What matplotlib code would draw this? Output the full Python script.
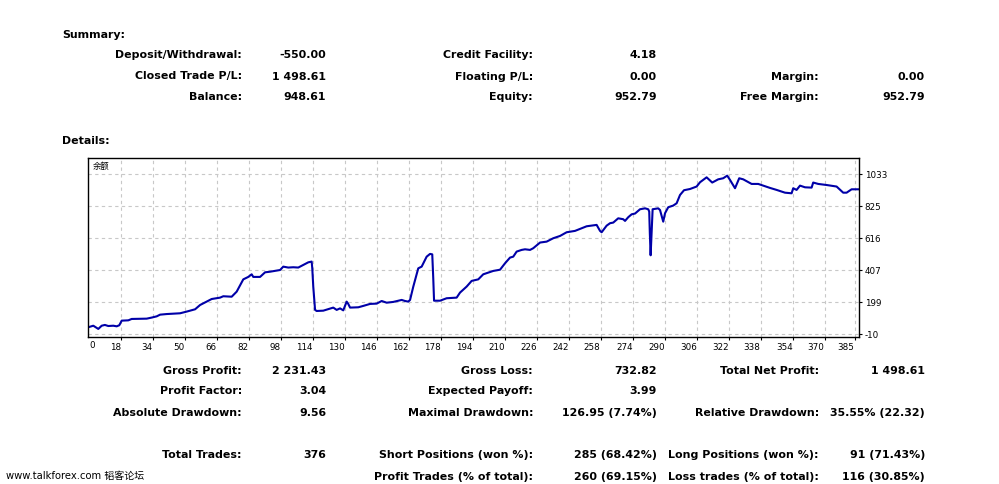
import matplotlib
matplotlib.use("Agg")
import matplotlib.pyplot as plt

# balance curve (trade number, balance)
trade_no = [1.8, 4.3, 6.8, 8.5, 10.1, 11.8, 14.3, 16, 17.3, 18.5, 21.8, 23.5, 31, 33.5, 36, 37.7,
            41, 47.7, 51, 55.2, 57.7, 61.8, 63.5, 67.7, 69.3, 73.5, 76, 79.3, 81.8, 83.5, 84.3,
            87.7, 90.2, 92.7, 97.7, 99.3, 101.8, 104.3, 106.8, 109.3, 111.8, 113.5, 113.8, 114.3,
            115.2, 116, 119.3, 124.3, 126, 127.7, 129.3, 131, 131.8, 132.7, 136.8, 139.3, 142.7,
            146, 148.5, 151, 154.3, 158.5, 160.2, 161.8, 162.7, 164.3, 166.8, 168.5, 171, 172.7,
            173.8, 174.3, 174.7, 177.7, 181, 186, 187.7, 191, 193.5, 196.8, 199.3, 204.3, 207.7,
            210.2, 212.7, 214.3, 216, 218.5, 220.2, 222.7, 224.3, 227.7, 231, 234.3, 237.7, 241,
            245.2, 247.7, 251, 256, 257.7, 258.5, 261, 262.7, 264.3, 266.8, 269.3, 270.2, 271.8,
            273.5, 275.2, 277.7, 280.2, 281.8, 282.3, 282.6, 283, 283.5, 284, 286.8, 287.7, 289.3,
            290.2, 291.8, 294.3, 296, 297.7, 299.7, 302.7, 306, 307.7, 311, 313.8, 316.8, 319.3,
            321.3, 322.7, 325.2, 327.3, 329.3, 333.5, 336.8, 339.3, 342.7, 346, 350.2, 353.5,
            354.3, 356, 357.7, 360.2, 363.5, 364.3, 366.8, 371, 376, 379.3, 381, 383.5, 387.3]
balance = [36, 46, 25, 46, 51, 44, 46, 42, 49, 79, 81, 90, 92, 99, 107, 118,
           122, 127, 138, 153, 181, 209, 220, 229, 238, 235, 268, 348, 364, 381, 364,
           364, 394, 398, 409, 431, 425, 427, 425, 442, 459, 464, 420, 300,
           149, 142, 144, 164, 149, 159, 146, 203, 188, 164, 166, 175, 188,
           190, 207, 196, 201, 214, 207, 203, 214, 300, 420, 431, 496, 514,
           511, 355, 209, 209, 225, 229, 262, 301, 338, 348, 381, 403, 411,
           453, 490, 496, 529, 540, 544, 540, 551, 588, 594, 616, 631, 655,
           664, 677, 694, 703, 664, 655, 698, 714, 718, 746, 740, 729, 753,
           772, 777, 805, 811, 805, 790, 650, 505, 650, 805, 811, 800, 724,
           779, 818, 829, 844, 898, 929, 937, 953, 981, 1013, 979, 1000, 1007,
           1024, 996, 942, 1007, 1000, 970, 970, 959, 944, 931, 913, 909,
           942, 931, 959, 948, 946, 979, 970, 963, 953, 913, 913, 935, 935]

x_ticks = [18, 34, 50, 66, 82, 98, 114, 130, 146, 162, 178, 194, 210, 226, 242, 258,
           274, 290, 306, 322, 338, 354, 370, 385]
y_ticks = [-10, 198.6, 407.2, 615.8, 824.4, 1033]
y_labels = ["-10", "199", "407", "616", "825", "1033"]

summary_rows = [
    [("Deposit/Withdrawal:", "-550.00"), ("Credit Facility:", "4.18"), None],
    [("Closed Trade P/L:", "1 498.61"), ("Floating P/L:", "0.00"), ("Margin:", "0.00")],
    [("Balance:", "948.61"), ("Equity:", "952.79"), ("Free Margin:", "952.79")],
]
detail_rows = [
    [("Gross Profit:", "2 231.43"), ("Gross Loss:", "732.82"), ("Total Net Profit:", "1 498.61")],
    [("Profit Factor:", "3.04"), ("Expected Payoff:", "3.99"), None],
    [("Absolute Drawdown:", "9.56"), ("Maximal Drawdown:", "126.95 (7.74%)"),
     ("Relative Drawdown:", "35.55% (22.32)")],
    [("Total Trades:", "376"), ("Short Positions (won %):", "285 (68.42%)"),
     ("Long Positions (won %):", "91 (71.43%)")],
    [None, ("Profit Trades (% of total):", "260 (69.15%)"),
     ("Loss trades (% of total):", "116 (30.85%)")],
]

W, H = 999, 484
fig = plt.figure(figsize=(W / 100, H / 100), dpi=100)
fig.patch.set_facecolor("white")

def px(x, y):
    return x / W, 1 - y / H

# columns: label right edge, value right edge (pixels)
cols = [(242, 326), (533, 657), (819, 925)]
bold = dict(fontsize=7.9, fontweight="bold", family="DejaVu Sans", va="center")

def table(rows, ys):
    for row, y in zip(rows, ys):
        for cell, (lx, vx) in zip(row, cols):
            if cell is None:
                continue
            fig.text(*px(lx, y), cell[0], ha="right", **bold)
            fig.text(*px(vx, y), cell[1], ha="right", **bold)

fig.text(*px(62, 35), "Summary:", ha="left", **bold)
table(summary_rows, [55, 76.5, 97.5])
fig.text(*px(62, 141), "Details:", ha="left", **bold)
table(detail_rows, [370.5, 391.5, 412.5, 455.5, 476.5])

fig.text(*px(6, 476), "www.talkforex.com 韬客论坛", ha="left", va="center",
         fontsize=7.2, family=["DejaVu Sans", "Noto Sans CJK SC"])

# graph
ax = fig.add_axes([88 / W, 1 - 337 / H, (859 - 88) / W, (337 - 158) / H])
ax.plot(trade_no, balance, color="#0000A8", lw=1.5)
ax.set_xlim(1.65, 387.2)
ax.set_ylim(-27.6, 1139)
ax.set_xticks(x_ticks)
ax.set_xticklabels([str(v) for v in x_ticks], ha="right")
ax.set_yticks(y_ticks)
ax.set_yticklabels(y_labels)
ax.yaxis.tick_right()
ax.tick_params(axis="both", labelsize=6.3, length=2, width=0.8, pad=2)
ax.grid(True, color="#C8C8C8", ls=(0, (3, 3)), lw=0.8)
for s in ax.spines.values():
    s.set_color("black")
    s.set_linewidth(1)
ax.text(0.006, 0.955, "余额", transform=ax.transAxes, fontsize=6,
        family=["Noto Sans CJK SC", "DejaVu Sans"], va="center", ha="left")
fig.text(*px(89, 345), "0", ha="left", va="center", fontsize=6.3)

fig.savefig("out.png", dpi=100)
